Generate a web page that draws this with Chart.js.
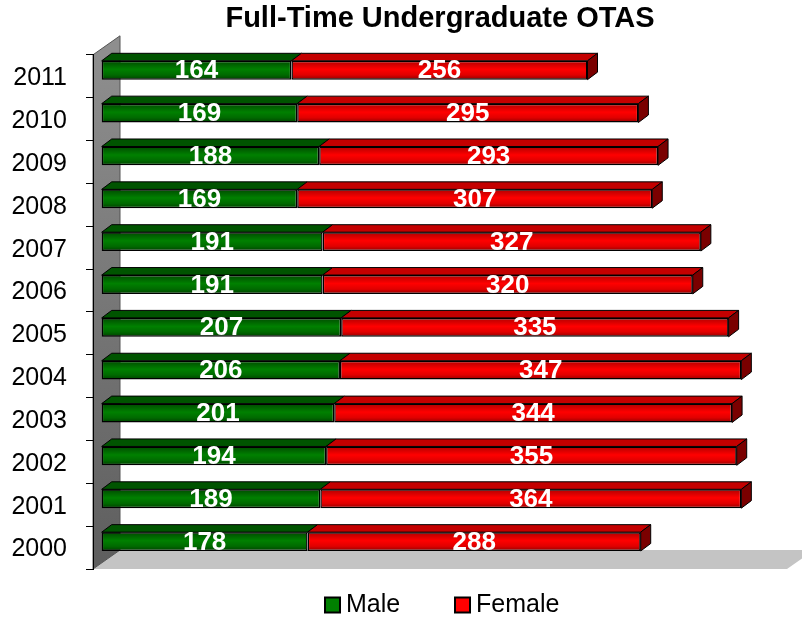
<!DOCTYPE html>
<html>
<head>
<meta charset="utf-8">
<script src="https://cdn.jsdelivr.net/npm/chart.js@4/dist/chart.umd.min.js"></script>
<style>
  html, body { margin: 0; padding: 0; background: #fff; }
  #wrap { width: 802px; height: 618px; }
</style>
</head>
<body>
<div id="wrap"><canvas id="otasChart" width="802" height="618"></canvas></div>
<script>
const years = ['2000', '2001', '2002', '2003', '2004', '2005', '2006', '2007', '2008', '2009', '2010', '2011'];
const maleCounts = [178, 189, 194, 201, 206, 207, 191, 191, 169, 188, 169, 164];
const femaleCounts = [288, 364, 355, 344, 347, 335, 320, 327, 307, 293, 295, 256];
const seriesNames = ['Male', 'Female'];

const FONT = 'Arial, "Liberation Sans", sans-serif';

// fake 3D: depth of the bars and of the wall/floor
const BAR_DX = 10, BAR_DY = -7.5;
const SHIFT_X = 8.7, SHIFT_Y = -6;
const WALL_DX = 27, WALL_DY = -19;

const faceColors = [
    {top: '#005400', side: '#003800', stops: ['#004a00', '#008000', '#006a00', '#004000']},
    {top: '#c40000', side: '#7a0000', stops: ['#b00000', '#ff0000', '#e00000', '#900000']}
];

function frontGradient(ctx, set) {
    const chart = ctx.chart;
    const yScale = chart.scales.y;
    if (!yScale || !chart.chartArea) return set.stops[1];
    const band = (yScale.bottom - yScale.top) / years.length;
    const h = band * 0.44;
    const yc = yScale.getPixelForValue(ctx.dataIndex);
    const g = chart.ctx.createLinearGradient(0, yc - h / 2, 0, yc + h / 2);
    g.addColorStop(0, set.stops[0]);
    g.addColorStop(0.45, set.stops[1]);
    g.addColorStop(0.75, set.stops[2]);
    g.addColorStop(1, set.stops[3]);
    return g;
}

function poly(ctx, pts, fill, stroke) {
    ctx.beginPath();
    ctx.moveTo(pts[0][0], pts[0][1]);
    for (let i = 1; i < pts.length; i++) ctx.lineTo(pts[i][0], pts[i][1]);
    ctx.closePath();
    ctx.fillStyle = fill;
    ctx.fill();
    if (stroke) {
        ctx.strokeStyle = stroke;
        ctx.lineWidth = 1;
        ctx.stroke();
    }
}

const depthPlugin = {
    id: 'depth',
    beforeDraw(chart) {
        const ctx = chart.ctx;
        const a = chart.chartArea;
        ctx.save();
        // floor
        poly(ctx, [[a.left, a.bottom], [a.right, a.bottom],
                   [a.right + WALL_DX, a.bottom + WALL_DY], [a.left + WALL_DX, a.bottom + WALL_DY]], '#c4c4c4');
        // back wall on the left
        const g = ctx.createLinearGradient(0, a.top, 0, a.bottom);
        g.addColorStop(0, '#8e8e8e');
        g.addColorStop(1, '#5e5e5e');
        poly(ctx, [[a.left, a.top], [a.left + WALL_DX, a.top + WALL_DY],
                   [a.left + WALL_DX, a.bottom + WALL_DY], [a.left, a.bottom]], g, '#555');
        ctx.restore();
    },
    beforeDatasetsDraw(chart) {
        const ctx = chart.ctx;
        ctx.save();
        ctx.translate(SHIFT_X, SHIFT_Y);
        chart.data.datasets.forEach((ds, i) => {
            const meta = chart.getDatasetMeta(i);
            const set = faceColors[i];
            const last = i === chart.data.datasets.length - 1;
            meta.data.forEach(bar => {
                const p = bar.getProps(['x', 'y', 'base', 'height'], true);
                const x0 = Math.min(p.x, p.base), x1 = Math.max(p.x, p.base);
                const yt = p.y - p.height / 2, yb = p.y + p.height / 2;
                poly(ctx, [[x0, yt], [x1, yt], [x1 + BAR_DX, yt + BAR_DY], [x0 + BAR_DX, yt + BAR_DY]], set.top, '#000');
                if (last) {
                    poly(ctx, [[x1, yt], [x1 + BAR_DX, yt + BAR_DY], [x1 + BAR_DX, yb + BAR_DY], [x1, yb]], set.side, '#000');
                }
            });
        });
    },
    afterDatasetsDraw(chart) {
        const ctx = chart.ctx;
        ctx.font = 'bold 26px ' + FONT;
        ctx.fillStyle = '#fff';
        ctx.textAlign = 'center';
        ctx.textBaseline = 'middle';
        chart.data.datasets.forEach((ds, i) => {
            chart.getDatasetMeta(i).data.forEach((bar, j) => {
                const p = bar.getProps(['x', 'y', 'base'], true);
                ctx.fillText(String(ds.data[j]), (p.x + p.base) / 2, p.y + 1);
            });
        });
        ctx.restore();
    },
    afterDraw(chart) {
        const ctx = chart.ctx;
        const items = [{x: 325, color: faceColors[0].stops[1]}, {x: 455, color: faceColors[1].stops[1]}];
        ctx.save();
        ctx.font = '25px ' + FONT;
        ctx.textAlign = 'left';
        ctx.textBaseline = 'middle';
        items.forEach((it, i) => {
            ctx.fillStyle = it.color;
            ctx.fillRect(it.x, 597.5, 15, 15);
            ctx.strokeStyle = '#000';
            ctx.lineWidth = 2;
            ctx.strokeRect(it.x, 597.5, 15, 15);
            ctx.fillStyle = '#000';
            ctx.fillText(seriesNames[i], it.x + 21, 605);
        });
        ctx.restore();
    }
};

new Chart(document.getElementById('otasChart'), {
    type: 'bar',
    data: {
        labels: years,
        datasets: [
            {
                label: seriesNames[0],
                data: maleCounts,
                backgroundColor: ctx => frontGradient(ctx, faceColors[0]),
                borderColor: '#000',
                borderWidth: 1.5,
                borderSkipped: false
            },
            {
                label: seriesNames[1],
                data: femaleCounts,
                backgroundColor: ctx => frontGradient(ctx, faceColors[1]),
                borderColor: '#000',
                borderWidth: 1.5,
                borderSkipped: false
            }
        ]
    },
    options: {
        indexAxis: 'y',
        responsive: false,
        animation: false,
        devicePixelRatio: 1,
        clip: false,
        categoryPercentage: 1,
        barPercentage: 0.44,
        layout: {padding: {top: 0, right: 15, bottom: 49, left: 0}},
        plugins: {
            legend: {display: false},
            tooltip: {enabled: false},
            title: {
                display: true,
                fullSize: false,
                text: 'Full-Time Undergraduate OTAS',
                color: '#000',
                font: {family: FONT, size: 29, weight: 'bold', lineHeight: 1.2},
                padding: {top: 2, bottom: 18}
            }
        },
        scales: {
            x: {
                stacked: true,
                display: false,
                min: 0,
                max: 600
            },
            y: {
                stacked: true,
                reverse: true,
                afterFit(scale) { scale.width = 93; },
                grid: {
                    drawOnChartArea: false,
                    drawTicks: true,
                    tickLength: 7,
                    color: '#000',
                    offset: true
                },
                border: {display: true, color: '#000', width: 1},
                ticks: {
                    color: '#000',
                    padding: 19,
                    labelOffset: 2,
                    font: {family: FONT, size: 25}
                }
            }
        }
    },
    plugins: [depthPlugin]
});
</script>
</body>
</html>
